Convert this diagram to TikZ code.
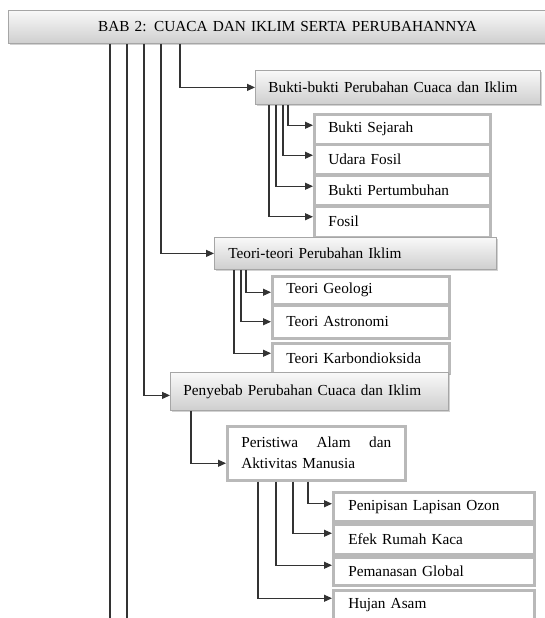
\documentclass[tikz,border=0pt]{standalone}
\usepackage{fontspec}
\setmainfont{Liberation Serif}
\usetikzlibrary{arrows.meta,shadows,calc}
\begin{document}
\begin{tikzpicture}[x=1pt,y=-1pt,
  txt/.style={font=\fontsize{15.3}{21}\selectfont, text=black},
  gbox/.style={txt, draw=gray!70, line width=0.8pt, top color=gray!5, bottom color=gray!38, anchor=north west, rectangle, align=left, inner ysep=0pt, drop shadow={shadow xshift=1.5pt, shadow yshift=-2pt, opacity=0.35}},
  wbox/.style={txt, draw=gray!55, line width=2.5pt, fill=white, anchor=north west, rectangle, align=left, inner ysep=0pt},
  conn/.style={draw=black!80, line width=1.1pt},
  arr/.style={conn, -{Triangle[length=8pt,width=7pt]}},
]
\useasboundingbox (0,0) rectangle (544,618);
\fill[white] (0,0) rectangle (544,618);

% title
\node[gbox, minimum height=33pt, inner xsep=0pt, text width=558pt, align=center] (title) at (8,10) {BAB 2: CUACA DAN IKLIM SERTA PERUBAHANNYA};

% Bukti
\node[gbox, minimum height=34pt, inner xsep=13pt, text width=259pt] (bk) at (255,70) {Bukti-bukti Perubahan Cuaca dan Iklim};
\node[wbox, minimum height=30pt, inner xsep=14pt, text width=148pt] (bs) at (313,113) {Bukti Sejarah};
\node[wbox, minimum height=30pt, inner xsep=14pt, text width=148pt] (uf) at (313,143) {Udara Fosil};
\node[wbox, minimum height=30pt, inner xsep=14pt, text width=148pt] (bp) at (313,174) {Bukti Pertumbuhan};
\node[wbox, minimum height=31pt, inner xsep=14pt, text width=148pt] (fo) at (313,205) {Fosil};

% Teori
\node[gbox, minimum height=32pt, inner xsep=14pt, text width=254pt] (tt) at (214,237) {Teori-teori Perubahan Iklim};
\node[wbox, minimum height=28pt, inner xsep=14pt, text width=149pt] (tg) at (271,275) {Teori Geologi};
\node[wbox, minimum height=33pt, inner xsep=14pt, text width=149pt] (ta) at (271,304) {Teori Astronomi};
\node[wbox, minimum height=30pt, inner xsep=14pt, text width=149pt] (tk) at (271,342) {Teori Karbondioksida};

% Penyebab
\node[gbox, minimum height=38pt, inner xsep=13pt, text width=252pt] (py) at (170,372) {Penyebab Perubahan Cuaca dan Iklim};
\node[wbox, minimum height=54pt, inner xsep=14pt, text width=150pt] (pa) at (226,425) {Peristiwa\hfill Alam\hfill dan\\Aktivitas Manusia};
\node[wbox, minimum height=29pt, inner xsep=15pt, text width=171pt] (pl) at (332,491) {Penipisan Lapisan Ozon};
\node[wbox, minimum height=30pt, inner xsep=15pt, text width=171pt] (ef) at (332,523) {Efek Rumah Kaca};
\node[wbox, minimum height=28pt, inner xsep=15pt, text width=171pt] (pg) at (332,556) {Pemanasan Global};
\node[wbox, minimum height=30pt, inner xsep=15pt, text width=171pt] (ha) at (332,589) {Hujan Asam};

% end coordinates of the long lines
\coordinate (e1) at (110,620);
\coordinate (e2) at (127,620);

% connectors from title
\draw[conn] (title.south -| 110,0) -- (e1);
\draw[conn] (title.south -| 127,0) -- (e2);
\draw[arr] (title.south -| 144,0) |- ([yshift=-4pt]py.west);
\draw[arr] (title.south -| 161,0) |- (tt.west);
\draw[arr] (title.south -| 180,0) |- (bk.west);

% Bukti children
\draw[arr] (bk.south -| 288,0) |- ([yshift=4pt]bs.west);
\draw[arr] (bk.south -| 283,0) |- ([yshift=4pt]uf.west);
\draw[arr] (bk.south -| 276,0) |- ([yshift=4pt]bp.west);
\draw[arr] (bk.south -| 269,0) |- ([yshift=5pt]fo.west);

% Teori children
\draw[arr] (tt.south -| 246,0) |- ([yshift=-2pt]tg.west);
\draw[arr] (tt.south -| 241,0) |- (ta.west);
\draw[arr] (tt.south -| 234,0) |- ([yshift=5pt]tk.west);

% Penyebab
\draw[arr] (py.south -| 191,0) |- ([yshift=-10pt]pa.west);
\draw[arr] (pa.south -| 308,0) |- ([yshift=3pt]pl.west);
\draw[arr] (pa.south -| 293,0) |- ([yshift=6pt]ef.west);
\draw[arr] (pa.south -| 276,0) |- ([yshift=6pt]pg.west);
\draw[arr] (pa.south -| 258,0) |- ([yshift=7pt]ha.west);
\end{tikzpicture}
\end{document}
